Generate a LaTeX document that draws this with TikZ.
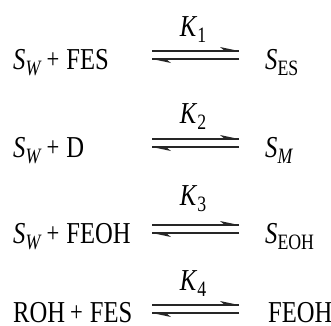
\documentclass[tikz,border=0pt]{standalone}
\usepackage{fontspec}
\setmainfont{Liberation Serif}[FakeStretch=0.81]
\newcommand{\sbs}[1]{\raisebox{-6bp}{\fontsize{22}{22}\selectfont #1}}
\newcommand{\pl}{\hspace{5bp}{\fontsize{28}{28}\selectfont\raisebox{0.5bp}{+}}\hspace{7bp}}
\begin{document}
\begin{tikzpicture}[x=1bp,y=-1bp,
  txt/.style={inner sep=0pt,anchor=base west,font=\fontsize{30.5}{34}\selectfont},
  klab/.style={inner sep=0pt,anchor=base,font=\fontsize{30.5}{34}\selectfont},
  eqline/.style={line width=1.1bp,draw=black!85},
  barb/.style={fill=black!85,draw=none}]
\useasboundingbox (0,0) rectangle (331,326);
% row 1
\node[txt] (l1) at (13,69) {\textit{S}\sbs{\textit{W}}\pl FES};
\node[txt] (r1) at (265,69) {\textit{S}\sbs{ES}};
\node[klab] (k1) at (193,36) {\textit{K}\sbs{1}};
% row 2
\node[txt] (l2) at (13,157) {\textit{S}\sbs{\textit{W}}\pl D};
\node[txt] (r2) at (265,157) {\textit{S}\sbs{\textit{M}}};
\node[klab] (k2) at (193,123) {\textit{K}\sbs{2}};
% row 3
\node[txt] (l3) at (13,243) {\textit{S}\sbs{\textit{W}}\pl FEOH};
\node[txt] (r3) at (265,243) {\textit{S}\sbs{EOH}};
\node[klab] (k3) at (193,205) {\textit{K}\sbs{3}};
% row 4
\node[txt] (l4) at (13,322) {ROH\pl FES};
\node[txt] (r4) at (268,322) {FEOH};
\node[klab] (k4) at (193,290) {\textit{K}\sbs{4}};
% equilibrium arrows
\foreach \b/\n in {69/1,157/2,243/3,323/4}{
  \coordinate (ul\n) at (152,\b-18);
  \coordinate (ur\n) at (239,\b-18);
  \coordinate (ll\n) at (152,\b-10);
  \coordinate (lr\n) at (239,\b-10);
  \draw[eqline] (ul\n) -- (ur\n);
  \fill[barb] (ur\n) -- ++(-19,-4) -- ++(5,4) -- cycle;
  \draw[eqline] (lr\n) -- (ll\n);
  \fill[barb] (ll\n) -- ++(19,4) -- ++(-5,-4) -- cycle;
}
\end{tikzpicture}
\end{document}
